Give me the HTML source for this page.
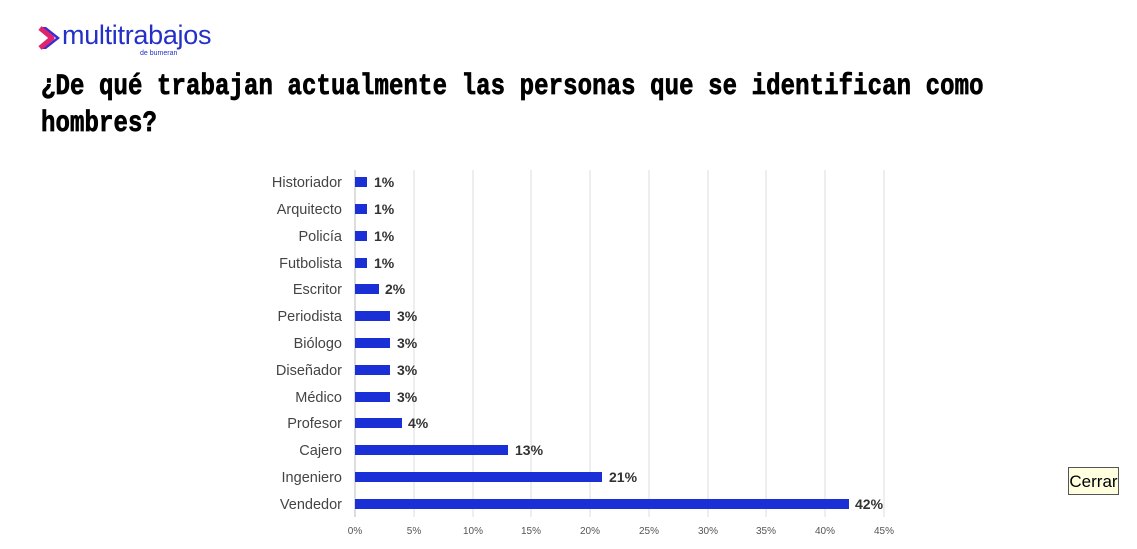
<!DOCTYPE html>
<html><head><meta charset="utf-8"><style>
body{margin:0;width:1137px;height:549px;background:#fff;position:relative;overflow:hidden;font-family:"Liberation Sans",sans-serif}
.t{position:absolute;left:41px;font:bold 24px "Liberation Mono",monospace;color:#000;transform:scaleY(1.25);transform-origin:left top;white-space:nowrap;letter-spacing:0.1px;-webkit-text-stroke:0.6px #000}
.btn{position:absolute;left:1068px;top:467px;width:51px;height:28px;background:#ffffe0;border:1px solid #555;font-size:17px;line-height:28px;text-align:center;color:#000;box-sizing:border-box}
</style></head><body>
<svg width="60" height="40" style="position:absolute;left:38px;top:24px"><path d="M4 3 L18 14 L4 25 L8 25 L22 14 L8 3Z" fill="#3a2bd6"/><path d="M2 4 L14 14 L2 24" stroke="#e0246b" stroke-width="5" fill="none" stroke-linejoin="round"/></svg>
<div style="position:absolute;left:62px;top:20px;font:27px 'Liberation Sans',sans-serif;color:#2430c8;letter-spacing:-0.3px">multitrabajos</div>
<div style="position:absolute;left:140px;top:50px;font:7px 'Liberation Sans',sans-serif;color:#2430c8">de bumeran</div>
<div class="t" style="top:70px">¿De qué trabajan actualmente las personas que se identifican como</div>
<div class="t" style="top:107px">hombres?</div>
<svg width="1137" height="549" style="position:absolute;left:0;top:0" font-family="Liberation Sans,sans-serif">
<g stroke="#dcdcdc" stroke-width="1">
<line x1="414" y1="170" x2="414" y2="517"/><line x1="473" y1="170" x2="473" y2="517"/><line x1="531" y1="170" x2="531" y2="517"/><line x1="590" y1="170" x2="590" y2="517"/><line x1="649" y1="170" x2="649" y2="517"/><line x1="708" y1="170" x2="708" y2="517"/><line x1="766" y1="170" x2="766" y2="517"/><line x1="825" y1="170" x2="825" y2="517"/><line x1="884" y1="170" x2="884" y2="517"/>
</g>
<line x1="355" y1="170" x2="355" y2="517" stroke="#bbb"/>
<g font-size="14.5" fill="#444" text-anchor="end">
<text x="342" y="187">Historiador</text><text x="342" y="214">Arquitecto</text><text x="342" y="241">Policía</text><text x="342" y="268">Futbolista</text><text x="342" y="294">Escritor</text><text x="342" y="321">Periodista</text><text x="342" y="348">Biólogo</text><text x="342" y="375">Diseñador</text><text x="342" y="402">Médico</text><text x="342" y="428">Profesor</text><text x="342" y="455">Cajero</text><text x="342" y="482">Ingeniero</text><text x="342" y="509">Vendedor</text>
</g>
<g fill="#1a2fd6">
<rect x="355" y="177" width="12" height="10"/><rect x="355" y="204" width="12" height="10"/><rect x="355" y="231" width="12" height="10"/><rect x="355" y="258" width="12" height="10"/><rect x="355" y="284" width="24" height="10"/><rect x="355" y="311" width="35" height="10"/><rect x="355" y="338" width="35" height="10"/><rect x="355" y="365" width="35" height="10"/><rect x="355" y="392" width="35" height="10"/><rect x="355" y="418" width="47" height="10"/><rect x="355" y="445" width="153" height="10"/><rect x="355" y="472" width="247" height="10"/><rect x="355" y="499" width="494" height="10"/>
</g>
<g font-size="14" font-weight="bold" fill="#333">
<text x="374" y="187">1%</text><text x="374" y="214">1%</text><text x="374" y="241">1%</text><text x="374" y="268">1%</text><text x="385" y="294">2%</text><text x="397" y="321">3%</text><text x="397" y="348">3%</text><text x="397" y="375">3%</text><text x="397" y="402">3%</text><text x="408" y="428">4%</text><text x="515" y="455">13%</text><text x="609" y="482">21%</text><text x="855" y="509">42%</text>
</g>
<g font-size="10" fill="#555" text-anchor="middle">
<text x="355" y="534">0%</text><text x="414" y="534">5%</text><text x="473" y="534">10%</text><text x="531" y="534">15%</text><text x="590" y="534">20%</text><text x="649" y="534">25%</text><text x="708" y="534">30%</text><text x="766" y="534">35%</text><text x="825" y="534">40%</text><text x="884" y="534">45%</text>
</g>
</svg>
<div class="btn">Cerrar</div>
</body></html>
